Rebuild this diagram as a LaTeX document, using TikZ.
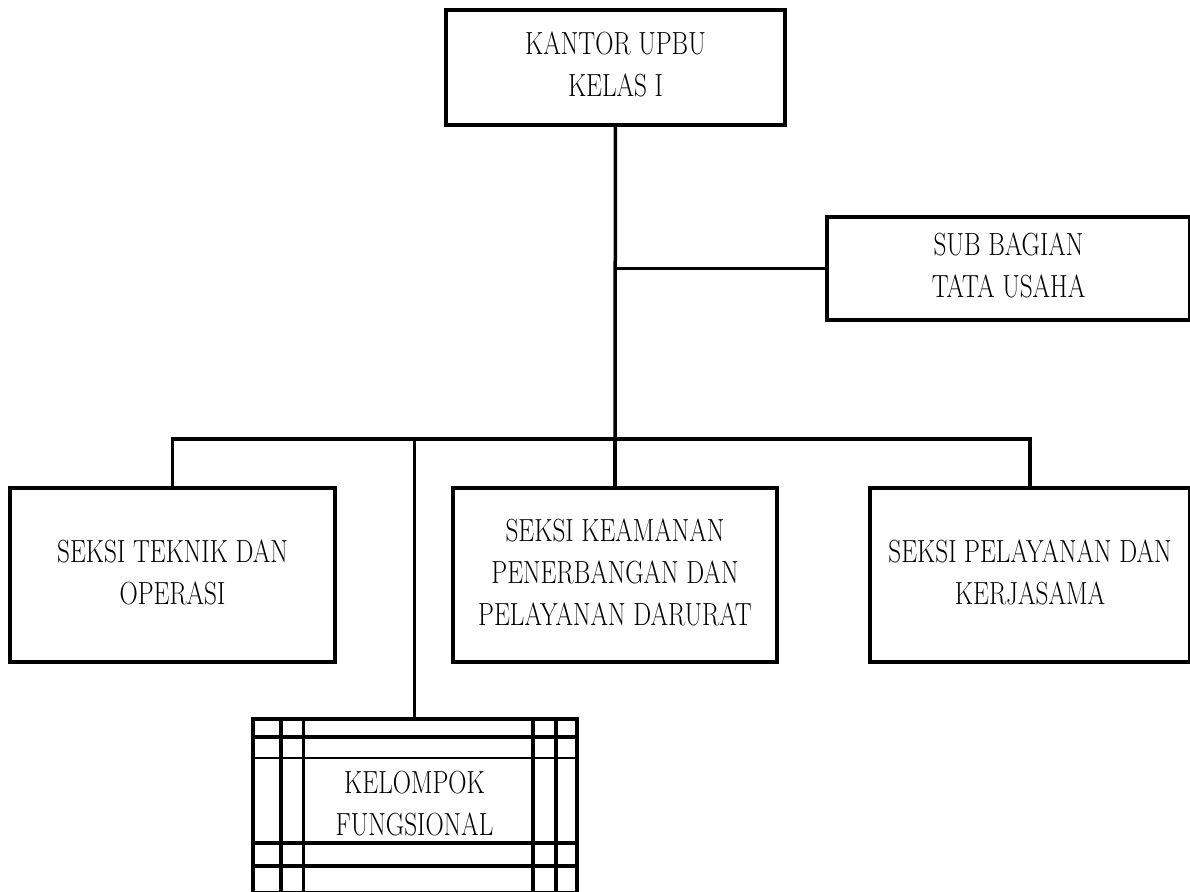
\documentclass[tikz,border=0pt]{standalone}
\newcommand\narrowtext[1]{\scalebox{0.79}[1]{\begin{tabular}{@{}c@{}}#1\end{tabular}}}

\begin{document}
\begin{tikzpicture}[x=1pt,y=-1pt,every node/.style={font=\fontsize{32}{42}\selectfont},
  unitbox/.style={draw,line width=4pt,inner sep=0pt},
  link/.style={line width=3.5pt}]
\useasboundingbox (0,0) rectangle (1190,891);
\node[unitbox,minimum width=339pt,minimum height=115pt] (A) at (615.5,67.5) {\narrowtext{KANTOR UPBU\\KELAS I}};
\node[unitbox,minimum width=363pt,minimum height=103pt] (B) at (1008.5,268.5) {\narrowtext{SUB BAGIAN\\TATA USAHA}};
\node[unitbox,minimum width=325pt,minimum height=174pt] (C) at (172.5,575) {\narrowtext{SEKSI TEKNIK DAN\\OPERASI}};
\node[unitbox,minimum width=324pt,minimum height=174pt] (D) at (615,575) {\narrowtext{SEKSI KEAMANAN\\PENERBANGAN DAN\\PELAYANAN DARURAT}};
\node[unitbox,minimum width=320pt,minimum height=174pt] (E) at (1030,575) {\narrowtext{SEKSI PELAYANAN DAN\\KERJASAMA}};
\node[unitbox,minimum width=324pt,minimum height=174pt] (F) at (414.5,806) {\narrowtext{KELOMPOK\\FUNGSIONAL}};
\foreach \dx/\w in {30/4pt,53/2.5pt}
  \draw[line width=\w] ([xshift=\dx pt]F.north west) -- ([xshift=\dx pt]F.south west);
\foreach \dx in {-46,-23}
  \draw[line width=4pt] ([xshift=\dx pt]F.north east) -- ([xshift=\dx pt]F.south east);
\foreach \dy/\w in {-20/4pt,-41/2.5pt,-126/4pt,-149/4pt}
  \draw[line width=\w] ([yshift=\dy pt]F.north west) -- ([yshift=\dy pt]F.north east);
\coordinate (bus) at (615,439);
\draw[link] (A) -- (bus);
\draw[link] (B.west) -- (B.west -| A.south);
\draw[link] (C.north) |- (bus) -| (E.north);
\draw[link] (D.north) -- (D.north |- bus);
\draw[link] (F.north) -- (F.north |- bus);
\end{tikzpicture}
\end{document}
